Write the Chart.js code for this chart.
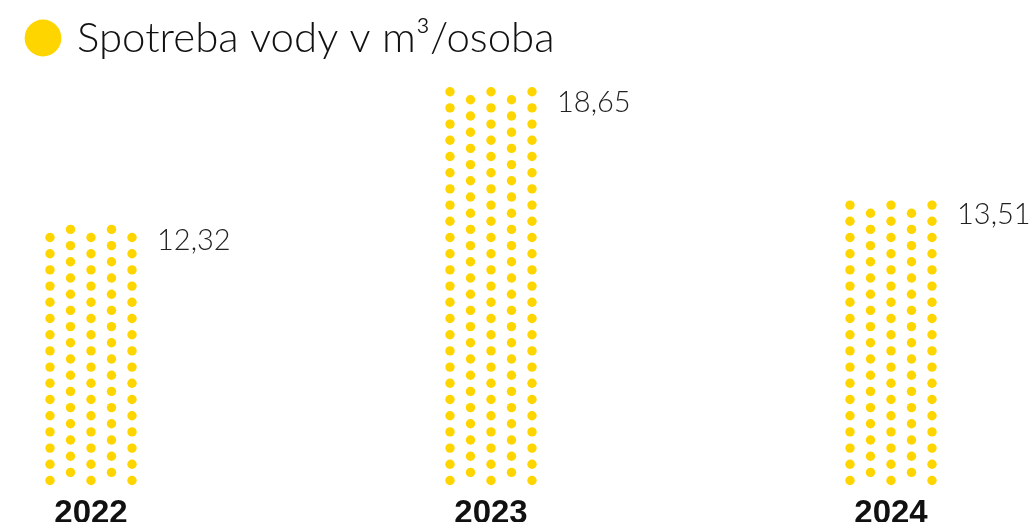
<!DOCTYPE html>
<html>
<head>
<meta charset="utf-8">
<script src="https://cdn.jsdelivr.net/npm/chart.js@4.4.0/dist/chart.umd.min.js"></script>
<style>
  html, body { margin: 0; padding: 0; background: #fff; }
  #wrap { width: 1035px; height: 522px; }
</style>
</head>
<body>
<div id="wrap"><canvas id="waterChart"></canvas></div>
<script>
// data
const YEARS = ['2022', '2023', '2024'];
const USAGE = [12.32, 18.65, 13.51];
const SERIES_LABEL = 'Spotreba vody v m³/osoba';

const YELLOW = '#ffd500';

// dot grid look
const DOT_R = 4.7;
const COL_GAP = 20.5;
const HALF_ROW = 8.1;
const FIRST_DOT = 15.5;

// draws each bar as a staggered column of dots + its value
const dotBars = {
  id: 'dotBars',
  afterDatasetsDraw(chart) {
    const ctx = chart.ctx;
    const meta = chart.getDatasetMeta(0);
    ctx.save();
    meta.data.forEach((bar, i) => {
      const bottom = bar.base - FIRST_DOT;
      ctx.fillStyle = YELLOW;
      for (let k = 0; bottom - k * HALF_ROW >= bar.y; k++) {
        const y = bottom - k * HALF_ROW;
        const cols = k % 2 === 0 ? [-2, 0, 2] : [-1, 1];
        cols.forEach(c => {
          ctx.beginPath();
          ctx.arc(bar.x + c * COL_GAP, y, DOT_R, 0, Math.PI * 2);
          ctx.fill();
        });
      }
      ctx.fillStyle = '#222';
      ctx.font = '300 29px Lato';
      ctx.textBaseline = 'middle';
      ctx.textAlign = 'left';
      ctx.fillText(USAGE[i].toFixed(2).replace('.', ','), bar.x + 66, bar.y + 13);
    });
    ctx.restore();
  }
};

new Chart(document.getElementById('waterChart'), {
  type: 'bar',
  data: {
    labels: YEARS,
    datasets: [{
      label: SERIES_LABEL,
      data: USAGE,
      backgroundColor: 'rgba(0,0,0,0)',
      borderWidth: 0
    }]
  },
  options: {
    responsive: true,
    maintainAspectRatio: false,
    animation: false,
    layout: { padding: { left: 20, top: 7, right: 144, bottom: 0 } },
    plugins: {
      legend: {
        display: true,
        align: 'start',
        labels: {
          usePointStyle: true,
          pointStyle: 'circle',
          boxWidth: 26,
          boxHeight: 26,
          padding: 10,
          color: '#111',
          font: { family: 'Lato', size: 42, weight: '300', lineHeight: 1.1 },
          generateLabels: () => [{
            text: SERIES_LABEL,
            fillStyle: YELLOW,
            strokeStyle: YELLOW,
            lineWidth: 0,
            pointStyle: 'circle',
            fontColor: '#111',
            hidden: false,
            datasetIndex: 0
          }]
        }
      },
      tooltip: { enabled: false }
    },
    scales: {
      x: {
        offset: false,
        grid: { display: false },
        border: { display: false },
        ticks: {
          color: '#111',
          padding: -10,
          font: { family: "'Liberation Sans'", size: 33, weight: 'bold' }
        },
        afterFit: s => { s.height = 26; }
      },
      y: {
        min: 0,
        max: 19.6,
        grid: { display: false },
        border: { display: false },
        ticks: { display: false },
        afterFit: s => { s.width = 71; }
      }
    }
  },
  plugins: [dotBars]
});
</script>
</body>
</html>
